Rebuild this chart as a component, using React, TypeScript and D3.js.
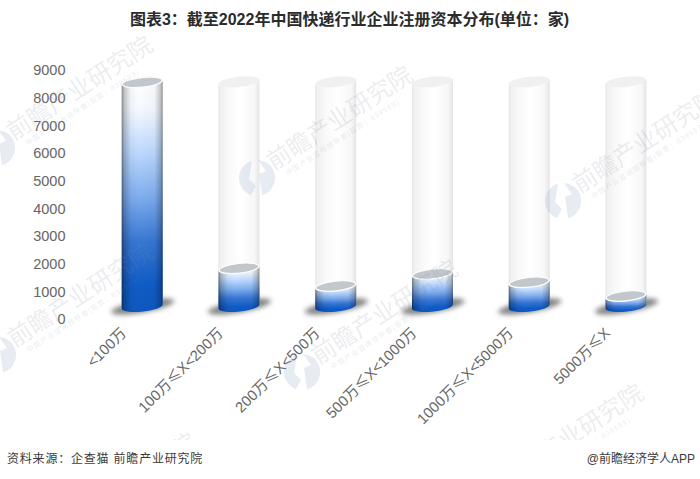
import React from "react";
import * as d3 from "d3";

const categories = ["<100万", "100万≤X<200万", "200万≤X<500万", "500万≤X<1000万", "1000万≤X<5000万", "5000万≤X"];
const values = [8095, 1380, 740, 1175, 875, 380];
const trackValue = 8115;
const yTicks = [0, 1000, 2000, 3000, 4000, 5000, 6000, 7000, 8000, 9000];
const titleText = "图表3\uFF1A截至2022年中国快递行业企业注册资本分布(单位\uFF1A家)";
const sourceText = "资料来源\uFF1A企查猫 前瞻产业研究院";
const brandText = "@前瞻经济学人APP";
const wmTitle = "前瞻产业研究院";
const wmSub = "中国产业咨询领导者(股票\uFF1A839599)";
const wmSpots: [number, number][] = [[-3, 148], [257, 178], [563, 201], [-2, 355], [302, 372], [488, 496], [41, 545]];

const FONT = "'Liberation Sans','Noto Sans CJK SC',sans-serif";
const y = d3.scaleLinear().domain([0, 9000]).range([319.2, 70]);
const x = d3.scalePoint<string>().domain(categories).range([142.2, 626]);
const DEPTH = 12.7;
const RX = 20.6, RY = 5.2, TILT = -6;
const dx = RX * Math.cos((TILT * Math.PI) / 180);
const dy = RX * Math.sin((TILT * Math.PI) / 180);

function body(cx: number, top: number, bot: number) {
  return `M${cx - dx},${top - dy} L${cx - dx},${bot - dy} A${RX},${RY} ${TILT} 0 0 ${cx + dx},${bot + dy} L${cx + dx},${top + dy} A${RX},${RY} ${TILT} 0 1 ${cx - dx},${top - dy} Z`;
}

function Label({ text }: { text: string }) {
  const parts = text.split(/(≤)/);
  return (
    <>
      {parts.map((p, i) =>
        p === "≤" ? (
          <tspan key={i} fontFamily="'Noto Sans CJK SC'">{p}</tspan>
        ) : (
          <tspan key={i}>{p}</tspan>
        )
      )}
    </>
  );
}

export default function App() {
  const base = y(0) - DEPTH;
  return (
    <svg width={700} height={479} style={{ position: "fixed", left: 0, top: 0, background: "#fff" }} fontFamily={FONT}>
      <defs>
        <linearGradient id="fillV" x1="0" y1="0" x2="0" y2="1">
          <stop offset="0" stopColor="#ffffff" />
          <stop offset="0.12" stopColor="#f6faff" />
          <stop offset="0.3" stopColor="#c0dbff" />
          <stop offset="0.5" stopColor="#80aeef" />
          <stop offset="0.7" stopColor="#3676d4" />
          <stop offset="0.88" stopColor="#105cc6" />
          <stop offset="1" stopColor="#0d58c0" />
        </linearGradient>
        <linearGradient id="fillH" x1="0" y1="0" x2="1" y2="0">
          <stop offset="0" stopColor="#000" stopOpacity="0.48" />
          <stop offset="0.06" stopColor="#000" stopOpacity="0.24" />
          <stop offset="0.22" stopColor="#000" stopOpacity="0.04" />
          <stop offset="0.4" stopColor="#000" stopOpacity="0" />
          <stop offset="0.8" stopColor="#000" stopOpacity="0.03" />
          <stop offset="0.94" stopColor="#000" stopOpacity="0.22" />
          <stop offset="1" stopColor="#000" stopOpacity="0.42" />
        </linearGradient>
        <linearGradient id="trackH" x1="0" y1="0" x2="1" y2="0">
          <stop offset="0" stopColor="#e5e5e7" />
          <stop offset="0.05" stopColor="#f0f0f1" />
          <stop offset="0.25" stopColor="#f9f9f9" />
          <stop offset="0.55" stopColor="#ffffff" />
          <stop offset="0.88" stopColor="#f7f7f8" />
          <stop offset="1" stopColor="#e4e4e6" />
        </linearGradient>
        <filter id="blur" x="-30%" y="-80%" width="160%" height="260%">
          <feGaussianBlur stdDeviation="2.4" />
        </filter>
        <clipPath id="wmClip">
          <rect x={0} y={36} width={700} height={404} />
        </clipPath>
      </defs>
      <rect width={700} height={479} fill="#fff" />

      <text x={349.5} y={25} textAnchor="middle" fontSize={16} fontWeight="bold" fill="#2b2b2b">{titleText}</text>

      {yTicks.map((t) => (
        <text key={t} x={65.5} y={y(t)} dy="0.36em" textAnchor="end" fontSize={14.5} fill="#666">{t}</text>
      ))}

      {categories.map((c, i) => {
        const cx = x(c)!;
        const trackTop = y(trackValue) - DEPTH;
        const top = y(values[i]) - DEPTH;
        return (
          <g key={c}>
            <ellipse
              cx={cx + 0.5}
              cy={base}
              rx={32}
              ry={6}
              transform={`rotate(-10 ${cx + 0.5} ${base})`}
              fill="#4a4a4a"
              opacity={0.68}
              filter="url(#blur)"
            />
            <path d={body(cx, trackTop, base)} fill="url(#trackH)" />
            <ellipse cx={cx} cy={trackTop} rx={RX} ry={RY} transform={`rotate(${TILT} ${cx} ${trackTop})`} fill="#f0f0f1" />
            <path d={body(cx, top, base)} fill="url(#fillV)" />
            <path d={body(cx, top, base)} fill="url(#fillH)" />
            <ellipse
              cx={cx}
              cy={top}
              rx={RX - 0.6}
              ry={RY - 0.3}
              transform={`rotate(${TILT} ${cx} ${top})`}
              fill="#c2c7cc"
              stroke="#fbfcfe"
              strokeWidth={1.3}
            />
          </g>
        );
      })}

      {categories.map((c) => (
        <text
          key={c}
          transform={`translate(${x(c)! - 15},${334}) rotate(-45)`}
          textAnchor="end"
          fontSize={14.8}
          fill="#666"
        >
          <Label text={c} />
        </text>
      ))}

      <g clipPath="url(#wmClip)">
        {wmSpots.map(([wx, wy], i) => (
          <g key={i} transform={`translate(${wx},${wy}) rotate(-33)`}>
            <path
              d="M-5,-17.3 A18,18 0 0 0 -6,17 L-1,8 L-8,1 Z M1,-18 A18,18 0 0 1 5,17.3 L2,-4 L9,-7 Z"
              fill="#93a5c6"
              opacity={0.22}
              transform="rotate(33)"
            />
            <text x={18} y={3} fontSize={24} fill="#7f8898" opacity={0.15}>{wmTitle}</text>
            <text x={27} y={15} fontSize={7} fill="#7f8898" letterSpacing={1.1} opacity={0.17}>{wmSub}</text>
          </g>
        ))}
      </g>

      <text x={7} y={462.5} fontSize={12} fill="#3a3a3a" letterSpacing={0.8}>{sourceText}</text>
      <text x={695} y={462.5} textAnchor="end" fontSize={12} fill="#3a3a3a">{brandText}</text>
    </svg>
  );
}
